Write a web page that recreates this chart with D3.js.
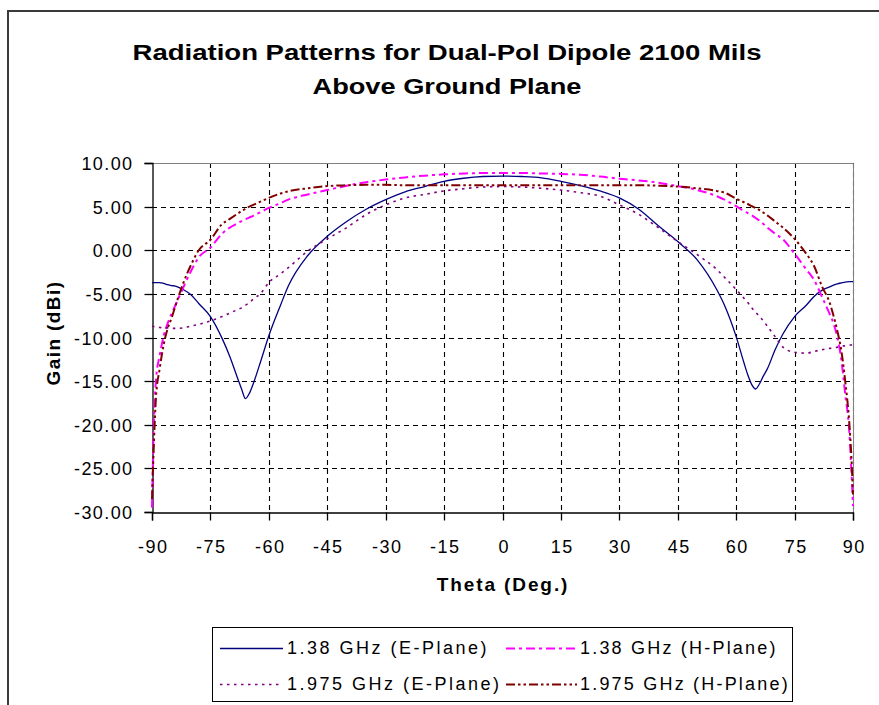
<!DOCTYPE html>
<html>
<head>
<meta charset="utf-8">
<script src="https://cdn.jsdelivr.net/npm/d3@7"></script>
<style>
  html, body { margin: 0; padding: 0; background: #fff; }
  svg { display: block; }
  text { font-family: Arial, "Liberation Sans", sans-serif; fill: #000; }
</style>
</head>
<body>
<svg id="chart" width="879" height="705"></svg>
<script>
// ---------------- DATA ----------------
const titleLines = ["Radiation Patterns for Dual-Pol Dipole 2100 Mils", "Above Ground Plane"];
const xAxisTitle = "Theta (Deg.)";
const yAxisTitle = "Gain (dBi)";
const xTickValues = [-90, -75, -60, -45, -30, -15, 0, 15, 30, 45, 60, 75, 90];
const yTickValues = [10, 5, 0, -5, -10, -15, -20, -25, -30];
const seriesNames = ["1.38 GHz (E-Plane)", "1.38 GHz (H-Plane)", "1.975 GHz (E-Plane)", "1.975 GHz (H-Plane)"];

const theta = [-90, -89.5, -89, -88, -87, -86, -85, -84, -82, -80, -78, -75, -72, -70, -68, -67, -66, -65, -64, -62, -60, -57, -55, -50, -45, -40, -35, -30, -25, -20, -15, -10, -5, 0,
  5, 10, 15, 20, 25, 30, 35, 40, 45, 50, 55, 57, 60, 62, 63, 64, 65, 66, 67, 68, 70, 72, 75, 78, 80, 82, 84, 85, 86, 87, 88, 89, 89.5, 90];

const gainE138 = [-3.7, -3.7, -3.7, -3.7, -3.8, -3.95, -4.05, -4.1, -4.5, -5.1, -6.1, -7.6, -10.1, -12.2, -14.7, -15.9, -17.0, -16.4, -15.3, -12.6, -9.8, -6.3, -4.1, -0.6, 1.6, 3.3, 4.7, 5.8, 6.7, 7.3, 7.9, 8.25, 8.45, 8.5,
  8.45, 8.3, 7.9, 7.4, 6.8, 6.0, 4.7, 2.8, 1.0, -1.1, -4.5, -6.3, -9.9, -12.9, -14.3, -15.4, -15.9, -15.3, -14.4, -13.6, -11.4, -9.6, -7.6, -6.3, -5.3, -4.6, -4.2, -4.0, -3.85, -3.75, -3.65, -3.6, -3.6, -3.6];

const gainH138 = [-29.5, -19.5, -15.0, -12.0, -9.8, -8.4, -7.3, -6.3, -4.3, -2.4, -0.8, 0.3, 1.9, 2.6, 3.1, 3.35, 3.55, 3.75, 3.95, 4.4, 4.85, 5.4, 5.8, 6.4, 6.9, 7.4, 7.8, 8.1, 8.35, 8.55, 8.7, 8.8, 8.85, 8.85,
  8.85, 8.8, 8.75, 8.65, 8.45, 8.2, 8.0, 7.75, 7.35, 6.9, 6.2, 5.8, 5.05, 4.5, 4.25, 4.0, 3.7, 3.4, 3.0, 2.6, 1.9, 1.25, -0.4, -2.2, -3.4, -5.3, -7.3, -8.4, -10.0, -12.5, -16.5, -20.5, -24.5, -29.3];

const gainE1975 = [-8.7, -8.75, -8.8, -8.85, -8.9, -8.9, -8.95, -8.95, -8.9, -8.7, -8.5, -8.1, -7.6, -7.2, -6.8, -6.6, -6.3, -6.0, -5.6, -4.9, -3.7, -2.7, -2.0, -0.1, 1.3, 2.6, 4.1, 5.2, 6.0, 6.4, 6.8, 7.05, 7.25, 7.3,
  7.25, 7.1, 6.9, 6.6, 6.2, 5.2, 4.1, 2.6, 1.0, -0.5, -2.2, -3.1, -4.5, -5.5, -6.0, -6.6, -7.1, -7.6, -8.1, -8.7, -9.9, -11.1, -11.7, -11.8, -11.6, -11.4, -11.25, -11.2, -11.1, -11.0, -10.95, -10.9, -10.85, -10.8];

const gainH1975 = [-28.5, -22.0, -17.0, -13.5, -10.8, -9.0, -7.8, -6.4, -3.8, -1.7, 0.0, 1.2, 3.0, 3.6, 4.2, 4.5, 4.75, 5.0, 5.2, 5.6, 6.0, 6.5, 6.75, 7.1, 7.35, 7.45, 7.5, 7.5, 7.45, 7.45, 7.45, 7.45, 7.45, 7.45,
  7.45, 7.45, 7.45, 7.45, 7.45, 7.45, 7.45, 7.4, 7.3, 7.1, 6.8, 6.6, 5.9, 5.5, 5.3, 5.05, 4.85, 4.6, 4.3, 4.0, 3.3, 2.6, 1.3, -0.4, -1.8, -4.1, -6.0, -7.5, -9.3, -11.5, -15.0, -19.5, -23.0, -28.0];

// ---------------- STYLES ----------------
const seriesStyles = [
  { color: "#000080", width: 1.3, dash: null },
  { color: "#FF00FF", width: 2, dash: "9,4,3,4" },
  { color: "#800080", width: 1.6, dash: "2.5,4.5" },
  { color: "#800000", width: 2, dash: "9,3,2.5,3,2.5,3" }
];
const seriesValues = [gainE138, gainH138, gainE1975, gainH1975];

// ---------------- LAYOUT ----------------
const svg = d3.select("#chart");
const plot = { left: 152, right: 853, top: 163, bottom: 512 };

const x = d3.scaleLinear().domain([-90, 90]).range([plot.left, plot.right]);
const y = d3.scaleLinear().domain([-30, 10]).range([plot.bottom, plot.top]);
const px = v => Math.round(x(v)) + 0.5;
const py = v => Math.round(y(v)) + 0.5;
const hyphen = s => s.replace(/\u2212/g, "-");

// outer frame
svg.append("rect")
  .attr("x", 8).attr("y", 11).attr("width", 900).attr("height", 800)
  .attr("fill", "none").attr("stroke", "#3a3a3a").attr("stroke-width", 2);

// title (glyphs stretched horizontally like the original)
const titleWidths = [629, 269];
svg.selectAll("text.title").data(titleLines).enter().append("text")
  .attr("class", "title")
  .attr("x", 447).attr("y", (d, i) => 60 + i * 34)
  .attr("text-anchor", "middle")
  .attr("textLength", (d, i) => titleWidths[i])
  .attr("lengthAdjust", "spacingAndGlyphs")
  .style("font-size", "22px").style("font-weight", "bold")
  .text(d => d);

// gridlines
const grid = svg.append("g");
grid.selectAll("line.vg").data(xTickValues.filter(v => v !== -90)).enter().append("line")
  .attr("x1", d => px(d)).attr("x2", d => px(d))
  .attr("y1", plot.top).attr("y2", plot.bottom)
  .attr("stroke", "#000").attr("stroke-width", 1.1).attr("stroke-dasharray", "5,4");
grid.selectAll("line.hg").data(yTickValues.filter(v => v !== -30 && v !== 10)).enter().append("line")
  .attr("x1", plot.left).attr("x2", plot.right)
  .attr("y1", d => py(d)).attr("y2", d => py(d))
  .attr("stroke", "#000").attr("stroke-width", 1.1).attr("stroke-dasharray", "5,4");

// plot border (top and right)
svg.append("path")
  .attr("d", `M${px(-90)},${py(10)}H${px(90)}V${py(-30)}`)
  .attr("fill", "none").attr("stroke", "#808080").attr("stroke-width", 1);

// axes
const fmtY = d => hyphen(d3.format(".2f")(d));
const fmtX = d => hyphen(d3.format("d")(d));
const yAxis = d3.axisLeft(y).tickValues(yTickValues).tickSize(8).tickFormat(fmtY);
const gy = svg.append("g").attr("transform", `translate(${px(-90)},0)`).call(yAxis);
gy.select(".domain").attr("stroke", "#000").attr("stroke-width", 1.3);
gy.selectAll(".tick").attr("transform", d => `translate(0,${py(d)})`);
gy.selectAll(".tick line").attr("stroke", "#000").attr("stroke-width", 1.3);
gy.selectAll(".tick text").attr("x", -19).attr("dy", "0.36em")
  .style("font-size", "18px").style("letter-spacing", "1.4px").style("font-family", "Arial, 'Liberation Sans', sans-serif");

const xAxis = d3.axisBottom(x).tickValues(xTickValues).tickSize(8).tickFormat(fmtX);
const gx = svg.append("g").attr("transform", `translate(0,${py(-30)})`).call(xAxis);
gx.select(".domain").attr("stroke", "#000").attr("stroke-width", 1.3);
gx.selectAll(".tick").attr("transform", d => `translate(${px(d)},0)`);
gx.selectAll(".tick line").attr("stroke", "#000").attr("stroke-width", 1.3);
gx.selectAll(".tick text").attr("y", 40).attr("dy", null).attr("dx", "0.7px")
  .style("font-size", "18px").style("letter-spacing", "1.4px").style("font-family", "Arial, 'Liberation Sans', sans-serif");

// axis titles
svg.append("text")
  .attr("x", 503).attr("y", 591)
  .attr("text-anchor", "middle")
  .style("font-size", "19px").style("font-weight", "bold").style("letter-spacing", "1.9px")
  .text(xAxisTitle);
svg.append("text")
  .attr("transform", "translate(60,333) rotate(-90)")
  .attr("text-anchor", "middle")
  .style("font-size", "19px").style("font-weight", "bold").style("letter-spacing", "1.4px")
  .text(yAxisTitle);

// series
const line = d3.line().x(d => x(d[0])).y(d => y(d[1])).curve(d3.curveMonotoneX);
const seriesG = svg.append("g");
seriesValues.forEach((vals, i) => {
  const st = seriesStyles[i];
  seriesG.append("path")
    .datum(theta.map((t, k) => [t, vals[k]]))
    .attr("d", line)
    .attr("fill", "none")
    .attr("stroke", st.color)
    .attr("stroke-width", st.width)
    .attr("stroke-dasharray", st.dash);
});

// legend
const legend = svg.append("g");
legend.append("rect")
  .attr("x", 212.5).attr("y", 627.5).attr("width", 580).attr("height", 74)
  .attr("fill", "#fff").attr("stroke", "#000").attr("stroke-width", 1);
const legPos = [
  { lx1: 220, lx2: 283, tx: 287, y: 648 },
  { lx1: 506, lx2: 577, tx: 580, y: 648 },
  { lx1: 220, lx2: 283, tx: 287, y: 684 },
  { lx1: 506, lx2: 577, tx: 580, y: 684 }
];
seriesNames.forEach((name, i) => {
  const p = legPos[i], st = seriesStyles[i];
  legend.append("line")
    .attr("x1", p.lx1).attr("x2", p.lx2).attr("y1", p.y + 0.5).attr("y2", p.y + 0.5)
    .attr("stroke", st.color).attr("stroke-width", st.width)
    .attr("stroke-dasharray", st.dash);
  legend.append("text")
    .attr("x", p.tx).attr("y", p.y).attr("dy", "0.36em")
    .style("font-size", "18px").style("letter-spacing", i % 2 === 0 ? "2.5px" : "2.2px")
    .text(name);
});
</script>
</body>
</html>
